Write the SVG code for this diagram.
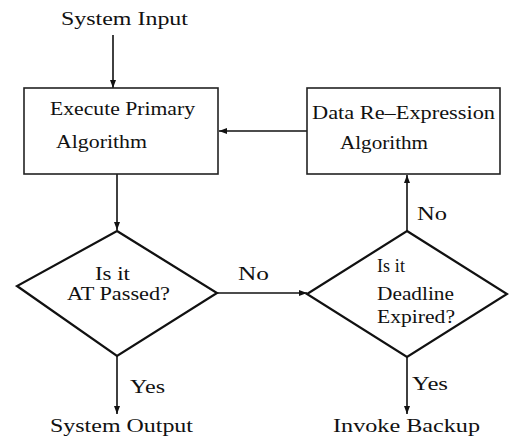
<svg xmlns="http://www.w3.org/2000/svg" width="509" height="442" viewBox="0 0 509 442">
  <style>
    text { font-family: "Liberation Serif", "Times New Roman", serif; font-size: 18px; fill: #111; }
    .box { fill: #fff; stroke: #222; stroke-width: 1.6; }
    .dia { fill: #fff; stroke: #111; stroke-width: 2.2; stroke-linejoin: miter; }
    .wire { fill: none; stroke: #111; stroke-width: 1.6; }
  </style>
  <defs>
    <marker id="arr" viewBox="0 0 8 8" refX="8" refY="4" markerWidth="8" markerHeight="8" markerUnits="userSpaceOnUse" orient="auto">
      <path d="M0,1 L8,4 L0,7 Z" fill="#111"/>
    </marker>
  </defs>
  <rect width="509" height="442" fill="#fff"/>

  <g id="connectors">
    <line class="wire" x1="113" y1="35" x2="113" y2="88" marker-end="url(#arr)"/>
    <line class="wire" x1="117" y1="174" x2="117" y2="230" marker-end="url(#arr)"/>
    <line class="wire" x1="217" y1="293" x2="307" y2="293" marker-end="url(#arr)"/>
    <line class="wire" x1="407" y1="231" x2="407" y2="175" marker-end="url(#arr)"/>
    <line class="wire" x1="307" y1="131" x2="219" y2="131" marker-end="url(#arr)"/>
    <line class="wire" x1="117" y1="356" x2="117" y2="414" marker-end="url(#arr)"/>
    <line class="wire" x1="407" y1="357" x2="407" y2="414" marker-end="url(#arr)"/>
    <text x="238" y="280" textLength="31" lengthAdjust="spacingAndGlyphs">No</text>
    <text x="417" y="220" textLength="30" lengthAdjust="spacingAndGlyphs">No</text>
    <text x="130" y="393" textLength="35" lengthAdjust="spacingAndGlyphs">Yes</text>
    <text x="412" y="390" textLength="36" lengthAdjust="spacingAndGlyphs">Yes</text>
  </g>

  <g id="system-input">
    <text x="61" y="25" textLength="127" lengthAdjust="spacingAndGlyphs">System Input</text>
  </g>

  <g id="primary">
    <rect class="box" x="24" y="88" width="194" height="86"/>
    <text x="50" y="115" textLength="145" lengthAdjust="spacingAndGlyphs">Execute Primary</text>
    <text x="56" y="148" textLength="91" lengthAdjust="spacingAndGlyphs">Algorithm</text>
  </g>

  <g id="reexpression">
    <rect class="box" x="307" y="88" width="193" height="86"/>
    <text x="312" y="119" textLength="183" lengthAdjust="spacingAndGlyphs">Data Re–Expression</text>
    <text x="340" y="149" textLength="88" lengthAdjust="spacingAndGlyphs">Algorithm</text>
  </g>

  <g id="at-check">
    <polygon class="dia" points="117,231 217,293 117,356 17,286"/>
    <text x="95" y="280" textLength="35" lengthAdjust="spacingAndGlyphs">Is it</text>
    <text x="67" y="300" textLength="103" lengthAdjust="spacingAndGlyphs">AT Passed?</text>
  </g>

  <g id="deadline-check">
    <polygon class="dia" points="407,231 507,294 407,357 307,294"/>
    <text x="377" y="272" textLength="28" lengthAdjust="spacing">Is it</text>
    <text x="377" y="300" textLength="77" lengthAdjust="spacingAndGlyphs">Deadline</text>
    <text x="377" y="323" textLength="78" lengthAdjust="spacingAndGlyphs">Expired?</text>
  </g>

  <g id="system-output">
    <text x="50" y="432" textLength="143" lengthAdjust="spacingAndGlyphs">System Output</text>
  </g>

  <g id="invoke-backup">
    <text x="333" y="432" textLength="147" lengthAdjust="spacingAndGlyphs">Invoke Backup</text>
  </g>
</svg>
